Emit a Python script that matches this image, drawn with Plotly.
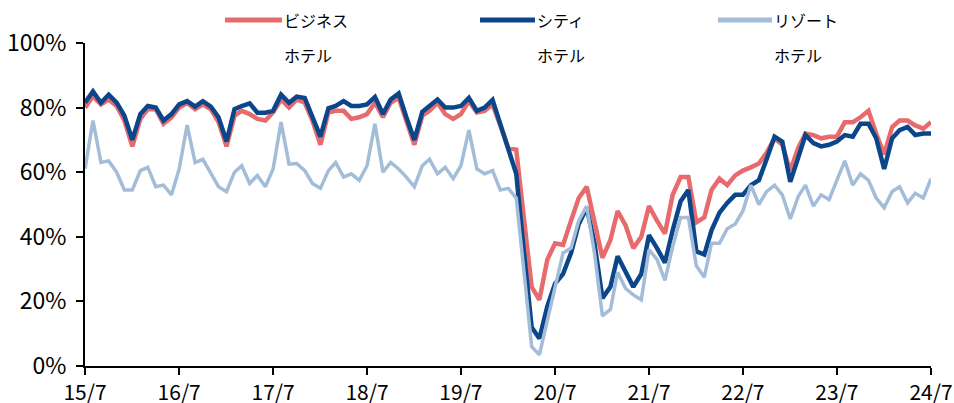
import pandas as pd
import plotly.graph_objects as go

# 月次データ 2015/7 - 2024/7
months = pd.date_range("2015-07-01", "2024-07-01", freq="MS")

business = [
    80, 83.5, 81, 82.5, 80.5, 76, 68, 76.5, 79.5, 79.5, 75, 77,
    80, 81.5, 79.5, 81, 79.5, 75.5, 68, 77.5, 79, 78, 76.5, 76,
    78.5, 82.5, 80, 82.5, 81.5, 76, 68.5, 78.5, 79, 79, 76.5, 77,
    78, 81.5, 77, 81.5, 83, 76, 68.5, 77.5, 79, 81.5, 78, 76.5,
    78, 82, 78.5, 79, 81, 74.5, 67.5, 67, 46, 24.5, 20.5, 33,
    38, 37.5, 45, 52, 55.5, 45, 33.5, 39, 48, 43.5, 36.5, 40,
    49.5, 45, 41, 53, 58.5, 58.5, 44.5, 46, 54.5, 58, 56, 59,
    60.5, 61.5, 62.7, 66, 70.5, 68.5, 60.5, 67.5, 72, 71.5, 70.5, 71,
    71, 75.5, 75.5, 77, 79, 72, 65.5, 74, 76, 76, 74.5, 73.5,
    75.5,
]

city = [
    81.5, 85, 81.5, 84, 81.5, 77.5, 70, 78, 80.5, 80, 76, 78,
    81, 82, 80.3, 82, 80.3, 77, 69.5, 79.5, 80.5, 81.3, 78.4, 78.4,
    79, 84, 81.5, 83.4, 83, 77, 71, 79.8, 80.5, 82, 80.5, 80.5,
    81, 83.3, 78, 82.5, 84.4, 77, 70, 78.7, 80.5, 82.5, 80, 80,
    80.5, 83, 79, 80, 82.4, 75, 68, 59.5, 36, 12, 8.5, 18.5,
    25.5, 28.5, 35, 44, 49, 38, 21, 24.5, 34, 29, 24.5, 28.5,
    40.5, 36.5, 32, 42, 51, 54.5, 35.5, 34.5, 42, 47.5, 50.5, 53,
    53, 56, 57.5, 64, 71, 69.5, 57, 64.5, 71.5, 69, 68, 68.5,
    69.5, 71.5, 71, 75, 75, 70.5, 61, 70.5, 73, 74, 71.5, 72,
    72,
]

resort = [
    61, 76, 63, 63.5, 60, 54.5, 54.5, 60.5, 61.5, 55.5, 56, 53,
    61, 74.6, 63, 64, 59.7, 55.5, 54, 60, 62, 56.5, 59, 55.5,
    61, 75.5, 62.5, 62.7, 60.5, 56.5, 55, 60.5, 63, 58.5, 59.5, 57.5,
    62, 75, 60, 63, 61, 58.5, 55.5, 62, 64, 59.5, 61.5, 58,
    62, 73, 61, 59.5, 60.5, 54.5, 55, 52, 30, 6, 3.5, 14,
    24.5, 35, 36.5, 45, 49.5, 35, 15.5, 17.5, 29, 24, 22, 20.5,
    36, 33, 26.5, 37, 46, 46, 31, 27.5, 38, 38, 42.5, 44,
    48, 56, 50, 54, 56, 53, 45.5, 52.5, 56, 49.5, 53, 51.5,
    57.5, 63.5, 56, 59.5, 57.5, 52, 49, 54, 55.5, 50.5, 53.5, 52,
    58,
]

series_names = ["ビジネスホテル", "シティホテル", "リゾートホテル"]
legend_line1 = ["ビジネス", "シティ", "リゾート"]
legend_line2 = ["ホテル", "ホテル", "ホテル"]
colors = ["#E76B6D", "#0B468A", "#A3BDD9"]
widths = [4.5, 4.5, 3.5]

tick_dates = pd.date_range("2015-07-01", "2024-07-01", freq="12MS")
tick_text = ["15/7", "16/7", "17/7", "18/7", "19/7", "20/7", "21/7", "22/7", "23/7", "24/7"]

FONT = "Noto Sans CJK JP"

fig = go.Figure()

for name, vals, c, w in zip(series_names, [business, city, resort], colors, widths):
    fig.add_trace(go.Scatter(
        x=months, y=vals, mode="lines", name=name,
        line=dict(color=c, width=w),
    ))

# 凡例 (上部に横並び、2行表記)
legend_pos = [(0.1655, 0.2329), (0.4669, 0.5319), (0.7482, 0.8121)]
for (x0, x1), t1, t2, c in zip(legend_pos, legend_line1, legend_line2, colors):
    fig.add_shape(type="line", xref="paper", yref="paper",
                  x0=x0, x1=x1, y0=1.071, y1=1.071,
                  line=dict(color=c, width=5))
    fig.add_annotation(x=x1, y=1.071, xref="paper", yref="paper",
                       text=t1, showarrow=False, xanchor="left", yanchor="middle",
                       font=dict(family=FONT, size=16, color="#000000"))
    fig.add_annotation(x=x1, y=0.963, xref="paper", yref="paper",
                       text=t2, showarrow=False, xanchor="left", yanchor="middle",
                       font=dict(family=FONT, size=16, color="#000000"))

fig.update_layout(
    width=954,
    height=403,
    plot_bgcolor="white",
    paper_bgcolor="white",
    margin=dict(l=85, r=23, t=43, b=37),
    font=dict(family=FONT, size=18, color="#000000"),
    showlegend=False,
    xaxis=dict(
        range=[months[0], months[-1]],
        tickvals=tick_dates,
        ticktext=tick_text,
        showgrid=False,
        zeroline=False,
        showline=True, linecolor="black", linewidth=2,
        ticks="outside", ticklen=7, tickwidth=2, tickcolor="black",
        tickfont=dict(size=21),
        ticklabelstandoff=0,
        ticklabeloverflow="allow",
        automargin=False,
    ),
    yaxis=dict(
        range=[0, 100],
        tickvals=[0, 20, 40, 60, 80, 100],
        ticktext=["0%", "20%", "40%", "60%", "80%", "100%"],
        showgrid=False,
        zeroline=False,
        showline=True, linecolor="black", linewidth=2,
        ticks="outside", ticklen=7, tickwidth=2, tickcolor="black",
        tickfont=dict(size=23),
        ticklabelstandoff=5,
        automargin=False,
    ),
)

# ページの既定余白を消して 954x403 にぴったり収める
fig.write_html(
    "out.html",
    config={"displayModeBar": False},
    post_script="document.body.style.margin = '0';",
)
